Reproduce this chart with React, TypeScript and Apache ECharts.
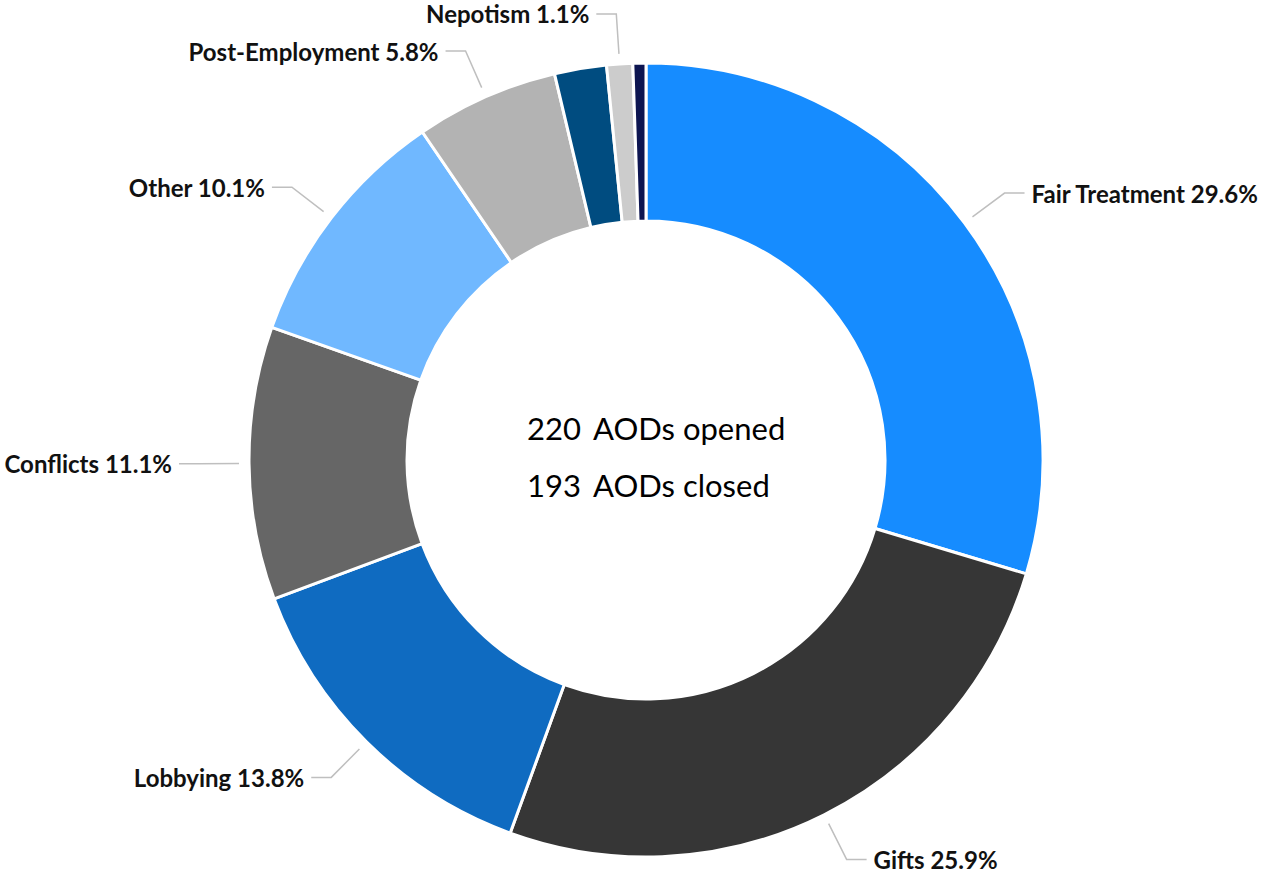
import React, { useEffect, useRef } from "react";
import * as echarts from "echarts";

const categories = [
  "Fair Treatment",
  "Gifts",
  "Lobbying",
  "Conflicts",
  "Other",
  "Post-Employment",
  "Misuse of Position",
  "Nepotism",
  "Political Activity",
];
const counts = [56, 49, 26, 21, 19, 11, 4, 2, 1];
const showLabel = [true, true, true, true, true, true, false, true, false];
const sliceColors = [
  "#168cff",
  "#363636",
  "#0f6bc1",
  "#666666",
  "#70b8ff",
  "#b3b3b3",
  "#004c80",
  "#cccccc",
  "#0d1551",
];
const openedCount = 220;
const closedCount = 193;

export default function App() {
  const ref = useRef<HTMLDivElement>(null);

  useEffect(() => {
    if (!ref.current) return;
    const chart = echarts.init(ref.current, null, { renderer: "svg" });
    const data = categories.map((name, i) => ({
      name,
      value: counts[i],
      itemStyle: { color: sliceColors[i] },
      label: { show: showLabel[i] },
      labelLine: { show: showLabel[i] },
    }));
    chart.setOption({
      animation: false,
      backgroundColor: "#ffffff",
      graphic: [
        {
          type: "text",
          left: 527,
          top: 412,
          style: { text: String(openedCount), font: "31px Lato", fill: "#000" },
        },
        {
          type: "text",
          left: 593,
          top: 412,
          style: { text: "AODs opened", font: "31px Lato", fill: "#000" },
        },
        {
          type: "text",
          left: 527,
          top: 469,
          style: { text: String(closedCount), font: "31px Lato", fill: "#000" },
        },
        {
          type: "text",
          left: 593,
          top: 469,
          style: { text: "AODs closed", font: "31px Lato", fill: "#000" },
        },
      ],
      series: [
        {
          type: "pie",
          center: [646, 460],
          radius: [239, 397],
          startAngle: 90,
          clockwise: true,
          avoidLabelOverlap: false,
          percentPrecision: 1,
          itemStyle: { borderColor: "#ffffff", borderWidth: 3 },
          label: {
            show: true,
            position: "outer",
            formatter: "{b} {d}%",
            fontFamily: "Lato",
            fontWeight: "bold",
            fontSize: 24,
            color: "#111111",
            distanceToLabelLine: 7,
            width: 320,
            overflow: "none",
          },
          labelLine: {
            show: true,
            length: 50,
            length2: 20,
            lineStyle: { color: "#bfbfbf", width: 1.5 },
          },
          labelLayout: (params: any) => {
            const pts = params.labelLinePoints;
            if (!pts || pts.length < 3) return {};
            const p0 = pts[0];
            const p1 = pts[1];
            const dx = p1[0] - p0[0];
            const dy = p1[1] - p0[1];
            const len = Math.hypot(dx, dy) || 1;
            const g = 10;
            return {
              labelLinePoints: [
                [p0[0] + (dx / len) * g, p0[1] + (dy / len) * g],
                [p1[0], p1[1]],
                [pts[2][0], pts[2][1]],
              ],
            };
          },
          data,
        },
      ],
    });
    return () => chart.dispose();
  }, []);

  return (
    <div
      ref={ref}
      style={{ position: "absolute", left: 0, top: 0, width: 1268, height: 873 }}
    />
  );
}
